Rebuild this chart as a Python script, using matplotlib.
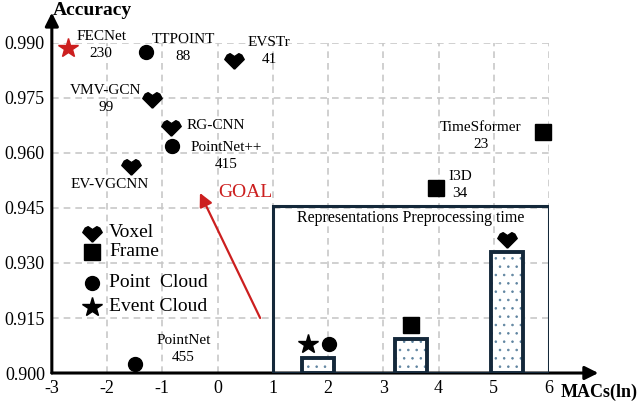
import matplotlib
matplotlib.use("Agg")
import matplotlib.pyplot as plt
from matplotlib.path import Path

plt.rcParams['font.family'] = ['Liberation Serif', 'DejaVu Serif']
plt.rcParams['axes.unicode_minus'] = False
plt.rcParams['hatch.linewidth'] = 0.6

# --- data ---
names = ["FECNet\n230", "TTPOINT\n88", "EVSTr\n41", "VMV-GCN\n99", "RG-CNN",
         "PointNet++\n415", "EV-VGCNN", "TimeSformer\n23", "I3D\n34", "PointNet\n455"]
macs = [-2.71, -1.30, 0.30, -1.19, -0.84, -0.83, -1.57, 5.89, 3.96, -1.50]
acc = [0.9886, 0.9875, 0.9856, 0.9750, 0.9674, 0.9619, 0.9567, 0.9657, 0.9505, 0.9025]
kinds = ["event", "point", "voxel", "voxel", "voxel", "point", "voxel", "frame", "frame", "point"]

# preprocessing-time inset (drawn in main axis units)
prep_kinds = [("event", "point"), ("frame",), ("voxel",)]
prep_x = [1.82, 3.50, 5.23]
prep_top = [0.9041, 0.9093, 0.9330]

xticks = list(range(-3, 7))
yticks = [0.900, 0.915, 0.930, 0.945, 0.960, 0.975, 0.990]

# heart-like marker for voxel
voxel = Path([(0, -1), (-1, 0.0), (-0.75, 0.45), (-0.45, 0.6), (0, 0.3),
              (0.45, 0.6), (0.75, 0.45), (1, 0.0), (0, -1)])
mk = {"voxel": (voxel, 14), "frame": ("s", 11), "point": ("o", 10), "event": ("*", 15)}
navy = "#14283a"
red = "#cc1f1f"

# label offsets in points (dx, dy, ha)
offs = [(24, 2, "center"), (27, 3, "center"), (25, 6, "center"), (-33, -1, "center"),
        (11, 0, "left"), (39, -7, "center"), (-15, -14, "center"), (-45, -3, "center"),
        (17, 2, "center"), (35, 11, "center")]

fig = plt.figure(figsize=(6.4, 4.04), dpi=100)
ax = fig.add_axes([0.081, 0.0767, 0.777, 0.817])

for x, y, k in zip(macs, acc, kinds):
    m, s = mk[k]
    ax.plot(x, y, marker=m, ms=s, color=red if k == "event" else "black",
            ls="none", clip_on=False, zorder=5)
for n, x, y, (dx, dy, ha) in zip(names, macs, acc, offs):
    ax.annotate(n, (x, y), xytext=(dx, dy), textcoords="offset points",
                ha=ha, va="center", fontsize=11, multialignment="center",
                linespacing=1.4, zorder=6)

# inset box with preprocessing bars
ax.add_patch(plt.Rectangle((1.0, 0.900), 5.0, 0.0455, fill=False, ec=navy, lw=2.2, zorder=4))
ax.text(3.49, 0.9423, "Representations Preprocessing time", ha="center", va="center", fontsize=11.5)
heights = [t - 0.900 for t in prep_top]
ax.bar(prep_x, heights, bottom=0.900, width=0.58, color="white",
       edgecolor="#5f84a0", lw=0, hatch="..", zorder=4)
ax.bar(prep_x, heights, bottom=0.900, width=0.58, fill=False,
       edgecolor=navy, lw=2.8, zorder=4)
for x, t, ks in zip(prep_x, prep_top, prep_kinds):
    for i, k in enumerate(ks):
        dx = (i - (len(ks) - 1) / 2) * 0.38
        m, s = mk[k]
        ax.plot(x + dx, t + 0.0038, marker=m, ms=s, color="black", ls="none", zorder=5)

# GOAL arrow
ax.annotate("", xy=(-0.32, 0.9491), xytext=(0.77, 0.915),
            arrowprops=dict(arrowstyle="-|>", color=red, lw=1.6, mutation_scale=20,
                            shrinkA=0, shrinkB=0))
ax.text(0.02, 0.9491, "GOAL", color=red, fontsize=14, va="center", ha="left")

# legend
leg = [("voxel", "Voxel", 0.427), ("frame", "Frame", 0.367),
       ("point", "Point  Cloud", 0.273), ("event", "Event Cloud", 0.200)]
for k, lab, yy in leg:
    m, s = mk[k]
    ax.plot(0.0805, yy, marker=m, ms=s, color="black", ls="none", transform=ax.transAxes)
    ax.text(0.115, yy, lab, transform=ax.transAxes, fontsize=14, va="center")

ax.set_xlim(-3, 6)
ax.set_ylim(0.900, 0.990)
ax.set_xticks(xticks)
ax.set_yticks(yticks)
ax.set_yticklabels([f"{v:.3f}" for v in yticks])
ax.tick_params(length=0, labelsize=13, pad=5)
ax.grid(True, ls=(0, (4, 3)), color="#c8c8c8", lw=1.2)
ax.set_axisbelow(True)
for sp in ax.spines.values():
    sp.set_visible(False)

# axis arrows
arr = dict(arrowstyle="-|>", color="black", lw=2.2, mutation_scale=20, shrinkA=0, shrinkB=0)
ax.annotate("", xy=(0, 1.092), xytext=(0, 0), xycoords="axes fraction",
            arrowprops=arr, annotation_clip=False)
ax.annotate("", xy=(1.099, 0), xytext=(0, 0), xycoords="axes fraction",
            arrowprops=arr, annotation_clip=False)

fig.text(0.083, 0.975, "Accuracy", fontsize=14, fontweight="bold", va="center", ha="left")
fig.text(0.876, 0.03, "MACs(ln)", fontsize=13, fontweight="bold", va="center", ha="left")

fig.savefig("out.png", dpi=100)
